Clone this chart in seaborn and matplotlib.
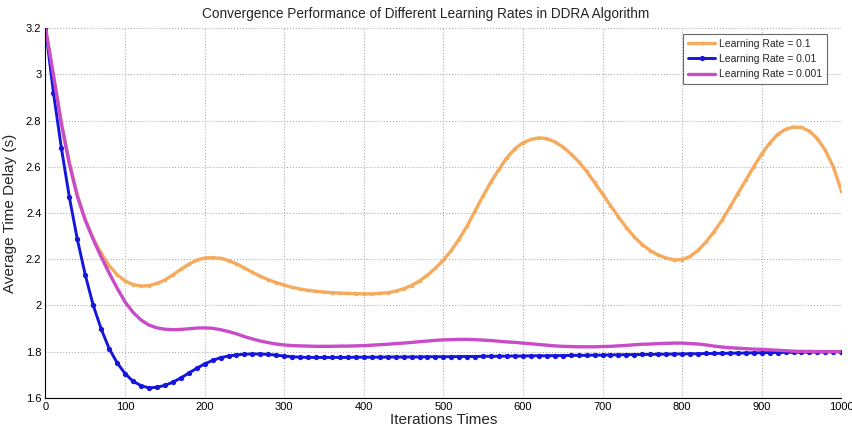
import numpy as np
import pandas as pd
import matplotlib
matplotlib.use("Agg")
import matplotlib.pyplot as plt
import seaborn as sns

iterations = list(range(0, 1001, 10))

lr_01 = [3.20, 2.995, 2.79, 2.618, 2.478, 2.372, 2.29, 2.225, 2.172, 2.133,
         2.106, 2.09, 2.084, 2.086, 2.095, 2.11, 2.132, 2.156, 2.178, 2.196,
         2.205, 2.207, 2.204, 2.194, 2.18, 2.162, 2.143, 2.126, 2.111, 2.099,
         2.088, 2.078, 2.071, 2.065, 2.061, 2.058, 2.055, 2.053, 2.052, 2.051,
         2.050, 2.050, 2.052, 2.055, 2.062, 2.072, 2.086, 2.106, 2.131, 2.161,
         2.196, 2.238, 2.288, 2.345, 2.41, 2.475, 2.535, 2.59, 2.64, 2.678,
         2.704, 2.718, 2.725, 2.722, 2.708, 2.686, 2.657, 2.622, 2.58, 2.532,
         2.482, 2.432, 2.383, 2.337, 2.296, 2.263, 2.237, 2.218, 2.205, 2.197,
         2.198, 2.212, 2.238, 2.274, 2.318, 2.368, 2.425, 2.484, 2.542, 2.600,
         2.655, 2.702, 2.740, 2.762, 2.772, 2.770, 2.754, 2.722, 2.671, 2.600,
         2.497]

lr_001 = [3.20, 2.92, 2.68, 2.468, 2.286, 2.132, 2.000, 1.898, 1.813, 1.752,
          1.705, 1.672, 1.653, 1.643, 1.646, 1.654, 1.668, 1.686, 1.707, 1.728,
          1.747, 1.762, 1.774, 1.781, 1.786, 1.789, 1.790, 1.790, 1.788, 1.785,
          1.781, 1.778, 1.776, 1.775, 1.775, 1.775, 1.775, 1.775, 1.775, 1.776,
          1.776, 1.776, 1.776, 1.777, 1.777, 1.777, 1.777, 1.777, 1.778, 1.778,
          1.778, 1.778, 1.779, 1.779, 1.779, 1.780, 1.780, 1.780, 1.781, 1.781,
          1.781, 1.782, 1.782, 1.782, 1.783, 1.783, 1.784, 1.784, 1.784, 1.785,
          1.785, 1.786, 1.786, 1.787, 1.787, 1.788, 1.788, 1.789, 1.789, 1.790,
          1.790, 1.791, 1.791, 1.792, 1.792, 1.793, 1.793, 1.794, 1.794, 1.795,
          1.795, 1.796, 1.796, 1.797, 1.797, 1.798, 1.798, 1.799, 1.799, 1.800,
          1.800]

lr_0001 = [3.20, 2.995, 2.785, 2.612, 2.472, 2.368, 2.285, 2.21, 2.14, 2.075,
           2.015, 1.97, 1.937, 1.915, 1.903, 1.897, 1.895, 1.896, 1.899, 1.902,
           1.903, 1.901, 1.895, 1.887, 1.877, 1.865, 1.855, 1.846, 1.839, 1.833,
           1.829, 1.826, 1.825, 1.824, 1.823, 1.823, 1.823, 1.824, 1.824, 1.825,
           1.826, 1.828, 1.830, 1.832, 1.835, 1.837, 1.840, 1.843, 1.846, 1.849,
           1.851, 1.852, 1.853, 1.853, 1.852, 1.850, 1.848, 1.845, 1.842, 1.840,
           1.837, 1.834, 1.831, 1.828, 1.825, 1.823, 1.822, 1.821, 1.821, 1.821,
           1.822, 1.823, 1.825, 1.827, 1.830, 1.832, 1.833, 1.835, 1.836, 1.837,
           1.837, 1.835, 1.833, 1.829, 1.824, 1.820, 1.817, 1.815, 1.813, 1.811,
           1.810, 1.808, 1.806, 1.804, 1.802, 1.801, 1.801, 1.800, 1.800, 1.800,
           1.800]

series_labels = ["Learning Rate = 0.1", "Learning Rate = 0.01", "Learning Rate = 0.001"]
x_ticks = list(range(0, 1001, 100))
y_ticks = [1.6, 1.8, 2.0, 2.2, 2.4, 2.6, 2.8, 3.0, 3.2]
y_tick_labels = ["1.6", "1.8", "2", "2.2", "2.4", "2.6", "2.8", "3", "3.2"]

sns.set_style("white")
plt.rcParams['font.family'] = ['Liberation Sans', 'DejaVu Sans']

fig = plt.figure(figsize=(8.52, 4.32), dpi=100)
ax = fig.add_axes([0.0534, 0.079, 0.934, 0.856])

c_orange = "#F5AB5E"
c_blue = "#1515DC"
c_mag = "#C84BC8"

sns.lineplot(x=iterations, y=lr_01, ax=ax, color=c_orange, linewidth=2.4,
             marker="o", markersize=2.6, markeredgewidth=0, label=series_labels[0])
sns.lineplot(x=iterations, y=lr_001, ax=ax, color=c_blue, linewidth=2.1,
             marker="o", markersize=3.8, markeredgewidth=0, label=series_labels[1])
sns.lineplot(x=iterations, y=lr_0001, ax=ax, color=c_mag, linewidth=2.4,
             label=series_labels[2])

ax.set_xlim(0, 1000)
ax.set_ylim(1.6, 3.2)
ax.set_xticks(x_ticks)
ax.set_yticks(y_ticks)
ax.set_yticklabels(y_tick_labels)
ax.grid(True, linestyle=":", color="#b0b0b0", linewidth=0.8)
ax.tick_params(direction="in", length=3, labelsize=8, colors="black", pad=3)
for s in ["top", "right"]:
    ax.spines[s].set_visible(False)
for s in ["left", "bottom"]:
    ax.spines[s].set_color("black")
    ax.spines[s].set_linewidth(0.8)

fig.suptitle("Convergence Performance of Different Learning Rates in DDRA Algorithm",
             fontsize=9.8, x=0.5, y=0.983, va="top")
ax.set_xlabel("Iterations Times", fontsize=11, labelpad=1)
ax.set_ylabel("Average Time Delay (s)", fontsize=11, labelpad=6)

leg = ax.legend(loc="upper right", bbox_to_anchor=(0.982, 0.985), fontsize=7.5,
                frameon=True, fancybox=False, edgecolor="#444444", handlelength=2.6,
                borderpad=0.5, labelspacing=0.5, handletextpad=0.3, borderaxespad=0)
leg.get_frame().set_linewidth(0.8)

fig.savefig("out.png", dpi=100)
